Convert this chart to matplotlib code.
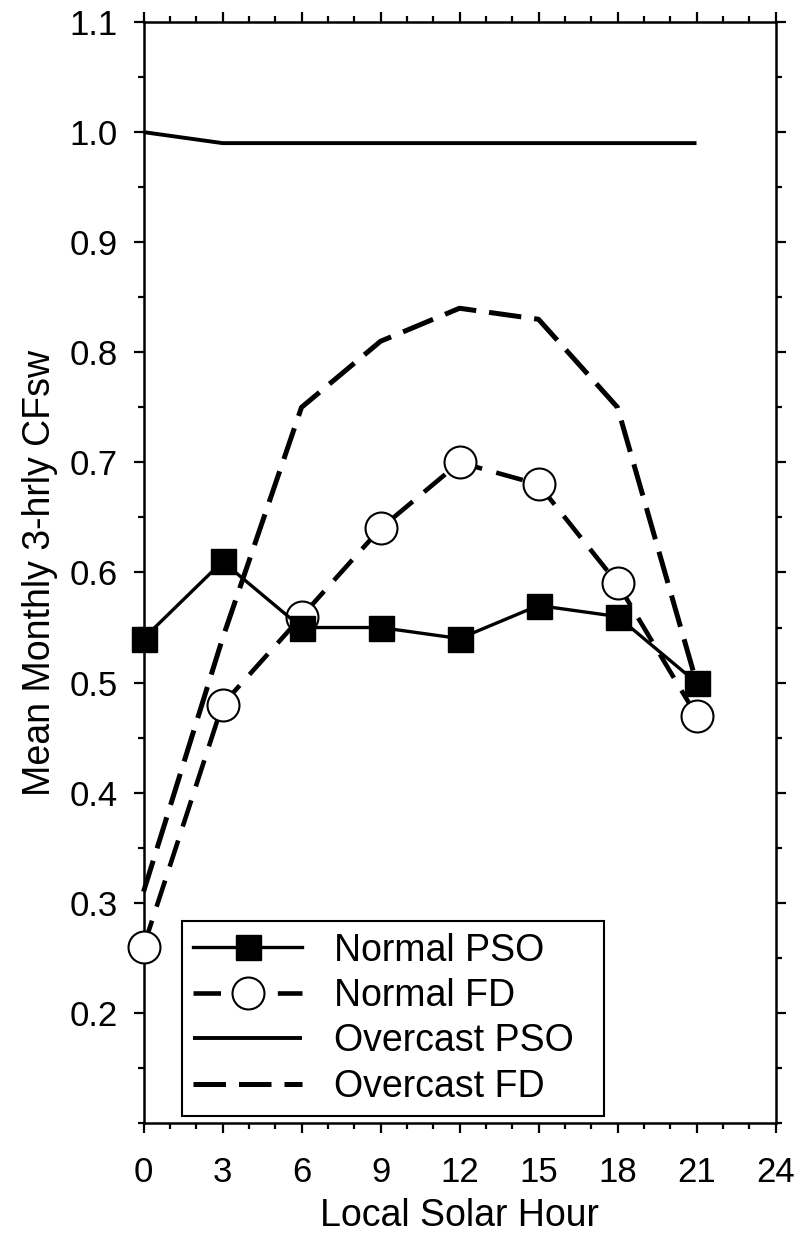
import matplotlib
matplotlib.use("Agg")
import matplotlib.pyplot as plt
from matplotlib.ticker import MultipleLocator

plt.rcParams['font.family'] = ['Liberation Sans', 'DejaVu Sans']

hours = [0, 3, 6, 9, 12, 15, 18, 21]
normal_pso = [0.54, 0.61, 0.55, 0.55, 0.54, 0.57, 0.56, 0.50]
normal_fd = [0.26, 0.48, 0.56, 0.64, 0.70, 0.68, 0.59, 0.47]
overcast_pso = [1.00, 0.99, 0.99, 0.99, 0.99, 0.99, 0.99, 0.99]
overcast_fd = [0.31, 0.54, 0.75, 0.81, 0.84, 0.83, 0.75, 0.50]

fig = plt.figure(figsize=(7.99, 12.37), dpi=100)
ax = fig.add_axes([0.1796, 0.0922, 0.7910, 0.8900])

ax.plot(hours, overcast_pso, color='black', lw=2.8, solid_capstyle='butt',
        label='Overcast PSO', zorder=2, clip_on=False)
ax.plot(hours, overcast_fd, color='black', lw=3.6, dashes=(6.5, 2.6),
        label='Overcast FD', zorder=3, clip_on=False)
ax.plot(hours, normal_fd, color='black', lw=3.3, dashes=(6, 3.2),
        marker='o', ms=23, mfc='white', mec='black', mew=1.5,
        label='Normal FD', zorder=4, clip_on=False)
ax.plot(hours, normal_pso, color='black', lw=2.4,
        marker='s', ms=18, mfc='black', mec='black',
        label='Normal PSO', zorder=5, clip_on=False)

ax.set_xlim(0, 24)
ax.set_ylim(0.1, 1.1)
ax.xaxis.set_major_locator(MultipleLocator(3))
ax.xaxis.set_minor_locator(MultipleLocator(1))
ax.yaxis.set_major_locator(MultipleLocator(0.1))
ax.yaxis.set_minor_locator(MultipleLocator(0.05))
ax.set_yticks([0.2, 0.3, 0.4, 0.5, 0.6, 0.7, 0.8, 0.9, 1.0, 1.1])
ax.set_yticklabels(['0.2', '0.3', '0.4', '0.5', '0.6', '0.7', '0.8', '0.9', '1.0', '1.1'])

ax.tick_params(which='both', direction='out', top=True, right=True,
               width=1.6, labelsize=25)
ax.tick_params(which='major', length=7.5)
ax.tick_params(which='minor', length=4.5)
ax.tick_params(axis='x', which='major', pad=16)
ax.tick_params(axis='y', which='major', pad=11)
for s in ax.spines.values():
    s.set_linewidth(1.8)

ax.set_xlabel('Local Solar Hour', fontsize=27, labelpad=7)
ax.set_ylabel('Mean Monthly 3-hrly CFsw', fontsize=27, labelpad=8)

h, l = ax.get_legend_handles_labels()
order = [l.index(n) for n in ['Normal PSO', 'Normal FD', 'Overcast PSO', 'Overcast FD']]
leg = ax.legend([h[i] for i in order], [l[i] for i in order],
                loc='lower left', bbox_to_anchor=(0.061, 0.0064, 0.667, 0.186),
                mode='expand', fontsize=27, numpoints=1, handlelength=2.9,
                handletextpad=0.85, labelspacing=0.25, borderaxespad=0,
                borderpad=0.3, fancybox=False, framealpha=1, edgecolor='black')
leg.get_frame().set_linewidth(1.5)

fig.savefig('out.png', dpi=100)
